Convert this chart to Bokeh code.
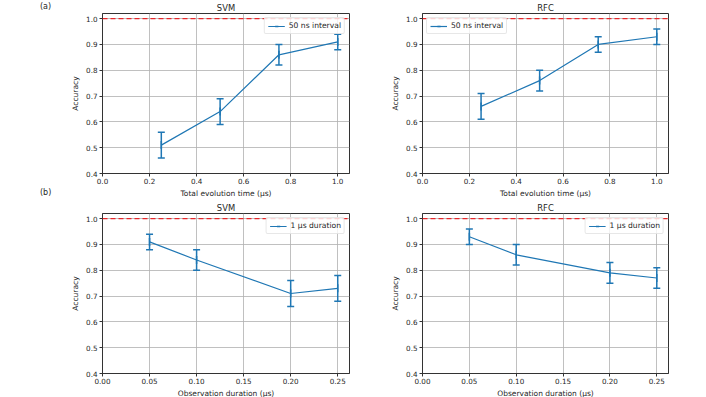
from math import pi
from bokeh.plotting import figure
from bokeh.layouts import gridplot, row, column
from bokeh.models import (ColumnDataSource, Whisker, TeeHead, Span, Range1d,
                          Legend, LegendItem, FixedTicker, Div,
                          CustomJSTickFormatter)
from bokeh.embed import file_html
from bokeh.resources import INLINE

# ---- data ----
x_time = [0.25, 0.50, 0.75, 1.00]
svm_time = [0.51, 0.64, 0.86, 0.91]
svm_time_err = [0.05, 0.05, 0.04, 0.03]
rfc_time = [0.66, 0.76, 0.90, 0.93]
rfc_time_err = [0.05, 0.04, 0.03, 0.03]

x_obs = [0.05, 0.10, 0.20, 0.25]
svm_obs = [0.91, 0.84, 0.71, 0.73]
svm_obs_err = [0.03, 0.04, 0.05, 0.05]
rfc_obs = [0.93, 0.86, 0.79, 0.77]
rfc_obs_err = [0.03, 0.04, 0.04, 0.04]

ideal_accuracy = 1.0
y_ticks = [0.4, 0.5, 0.6, 0.7, 0.8, 0.9, 1.0]
x_time_ticks = [0.0, 0.2, 0.4, 0.6, 0.8, 1.0]
x_obs_ticks = [0.0, 0.05, 0.10, 0.15, 0.20, 0.25]
panel_tags = ["(a)", "(b)"]

BLUE = "#1f77b4"
FONT = "DejaVu Sans"
TXT = "#262626"


def make_panel(title, xs, ys, errs, xlabel, legend_label, xmax, xticks,
               fmt, legend_loc, left, right, top, bottom, fh, fw):
    p = figure(frame_width=fw, frame_height=fh,
               min_border_left=left, min_border_right=right,
               min_border_top=top, min_border_bottom=bottom,
               x_range=Range1d(0, xmax), y_range=Range1d(0.4, 1.02),
               output_backend="svg", toolbar_location=None,
               title=title)
    p.title.align = "center"
    p.title.text_font = FONT
    p.title.text_font_size = "8.4px"
    p.title.text_font_style = "normal"
    p.title.text_color = TXT
    p.title.standoff = 1
    p.title.offset = 0

    src = ColumnDataSource(dict(x=xs, y=ys,
                                lo=[a - b for a, b in zip(ys, errs)],
                                hi=[a + b for a, b in zip(ys, errs)]))
    ln = p.line("x", "y", source=src, line_color=BLUE, line_width=1.2)
    mk = p.scatter("x", "y", source=src, marker="dash", angle=pi / 2,
                   size=8, line_color=BLUE, line_width=1.5)
    w = Whisker(source=src, base="x", lower="lo", upper="hi",
                line_color=BLUE, line_width=1.5,
                upper_head=TeeHead(size=7, line_color=BLUE, line_width=1.5),
                lower_head=TeeHead(size=7, line_color=BLUE, line_width=1.5))
    p.add_layout(w)
    p.add_layout(Span(location=ideal_accuracy, dimension="width",
                      line_color="#e8262a", line_dash="5 3", line_width=1.3))

    leg = Legend(items=[LegendItem(label=legend_label, renderers=[ln, mk])],
                 location=legend_loc)
    leg.label_text_font = FONT
    leg.label_text_font_size = "7.6px"
    leg.label_text_color = TXT
    leg.glyph_width = 17
    leg.glyph_height = 8
    leg.label_height = 8
    leg.padding = 3
    leg.spacing = 0
    leg.margin = 4
    leg.label_standoff = 4
    leg.border_line_color = "#d0d0d0"
    leg.border_radius = 2
    leg.background_fill_alpha = 0.8
    p.add_layout(leg)

    p.xaxis.axis_label = xlabel
    p.yaxis.axis_label = "Accuracy"
    p.xaxis.ticker = FixedTicker(ticks=xticks)
    p.yaxis.ticker = FixedTicker(ticks=y_ticks)
    p.xaxis.formatter = CustomJSTickFormatter(code="return tick.toFixed(%d)" % fmt)
    p.yaxis.formatter = CustomJSTickFormatter(code="return tick.toFixed(1)")
    for ax in (p.xaxis[0], p.yaxis[0]):
        ax.axis_label_text_font = FONT
        ax.axis_label_text_font_size = "7.5px"
        ax.axis_label_text_font_style = "normal"
        ax.axis_label_text_color = TXT
        ax.major_label_text_font = FONT
        ax.major_label_text_font_size = "7.2px"
        ax.major_label_text_color = TXT
        ax.axis_line_color = "#333333"
        ax.major_tick_line_color = "#333333"
        ax.major_tick_out = 3
        ax.major_tick_in = 0
        ax.minor_tick_out = 0
        ax.minor_tick_in = 0
        ax.axis_label_standoff = 2
        ax.major_label_standoff = 1
    p.yaxis.axis_label_standoff = 3
    p.yaxis.major_label_standoff = 2
    p.xgrid.grid_line_color = "#b0b0b0"
    p.ygrid.grid_line_color = "#b0b0b0"
    p.xgrid.grid_line_alpha = 0.8
    p.ygrid.grid_line_alpha = 0.8
    p.outline_line_color = "#333333"
    p.outline_line_alpha = 1.0
    p.background_fill_color = "white"
    return p


p1 = make_panel("SVM", x_time, svm_time, svm_time_err,
                "Total evolution time (μs)", "50 ns interval", 1.05,
                x_time_ticks, 1, "top_right", 42, 36, 13, 26, 160, 247)
p2 = make_panel("RFC", x_time, rfc_time, rfc_time_err,
                "Total evolution time (μs)", "50 ns interval", 1.05,
                x_time_ticks, 1, "top_left", 37, 30, 13, 26, 160, 246)
p3 = make_panel("SVM", x_obs, svm_obs, svm_obs_err,
                "Observation duration (μs)", "1 μs duration", 0.2625,
                x_obs_ticks, 2, "top_right", 42, 36, 13, 24, 160, 247)
p4 = make_panel("RFC", x_obs, rfc_obs, rfc_obs_err,
                "Observation duration (μs)", "1 μs duration", 0.2625,
                x_obs_ticks, 2, "top_right", 37, 30, 13, 24, 160, 246)

grid = gridplot([[p1, p2], [p3, p4]], toolbar_location=None)

tag_style = {"font-family": FONT, "font-size": "8px", "color": TXT}
inner = '<div style="margin-left:40px;margin-top:2px;line-height:10px">%s</div>'
div_a = Div(text=inner % panel_tags[0], width=60, height=186, margin=0,
            styles=tag_style)
div_b = Div(text=inner % panel_tags[1], width=60, height=190, margin=0,
            styles=tag_style)

page = row(column(div_a, div_b), grid)

with open("out.html", "w") as f:
    f.write(file_html(page, INLINE))
